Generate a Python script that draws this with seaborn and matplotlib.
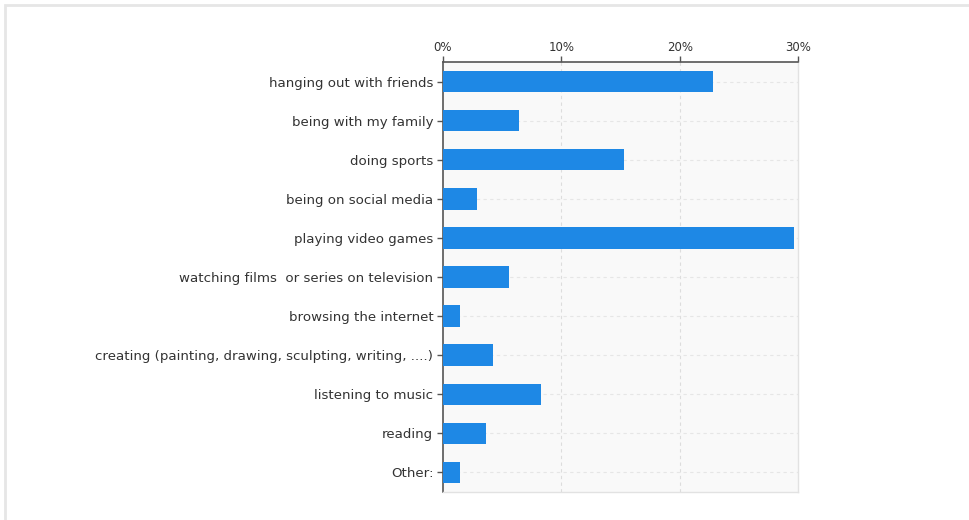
import pandas as pd
import numpy as np
import matplotlib.pyplot as plt
import seaborn as sns
from matplotlib.patches import Rectangle
from matplotlib.ticker import PercentFormatter

activities = ['hanging out with friends', 'being with my family', 'doing sports',
              'being on social media', 'playing video games',
              'watching films  or series on television', 'browsing the internet',
              'creating (painting, drawing, sculpting, writing, ....)',
              'listening to music', 'reading', 'Other:']
percent = [22.8, 6.4, 15.3, 2.9, 29.7, 5.6, 1.4, 4.2, 8.3, 3.6, 1.4]

df = pd.DataFrame({'activity': activities, 'percent': percent})

sns.set_style('white')
plt.rcParams['font.family'] = ['Verdana', 'DejaVu Sans']

fig = plt.figure(figsize=(9.69, 5.2), dpi=100)
ax = fig.add_axes([443 / 969, 1 - 492 / 520, 355 / 969, 430 / 520])

# screenshot frame
fig.patches.append(Rectangle((5 / 969, -0.1), 1.2, 1 - 5 / 520 + 0.1,
                             transform=fig.transFigure, fill=False,
                             edgecolor='#e6e6e6', linewidth=2))

ax.set_facecolor('#f9f9f9')
sns.barplot(data=df, x='percent', y='activity', orient='h', color='#1e88e5',
            width=0.55, saturation=1, linewidth=0, ax=ax, zorder=3)

ax.set_xlim(0, 30)
ax.set_ylim(10.5, -0.5)
ax.set_xticks([0, 10, 20, 30])
ax.xaxis.set_major_formatter(PercentFormatter(decimals=0))
ax.xaxis.tick_top()
ax.set_xlabel('')
ax.set_ylabel('')

for x in [10, 20]:
    ax.axvline(x, color='#dddddd', linestyle=(0, (3, 3)), linewidth=0.8, zorder=1)
for y in range(len(activities)):
    ax.axhline(y, color='#e6e6e6', linestyle=(0, (3, 3)), linewidth=0.8, zorder=1)

for side in ['right', 'bottom']:
    ax.spines[side].set_color('#e2e2e2')
    ax.spines[side].set_linewidth(1)
for side in ['top', 'left']:
    ax.spines[side].set_color('#555555')
    ax.spines[side].set_linewidth(1.2)

ax.tick_params(axis='x', top=True, direction='out', length=4, width=1,
               color='#555555', labelsize=8.5, labelcolor='#333333', pad=2)
ax.tick_params(axis='y', left=True, direction='out', length=4, width=1,
               color='#555555', labelsize=9.6, labelcolor='#333333', pad=3)

plt.savefig('out.png', dpi=100)
